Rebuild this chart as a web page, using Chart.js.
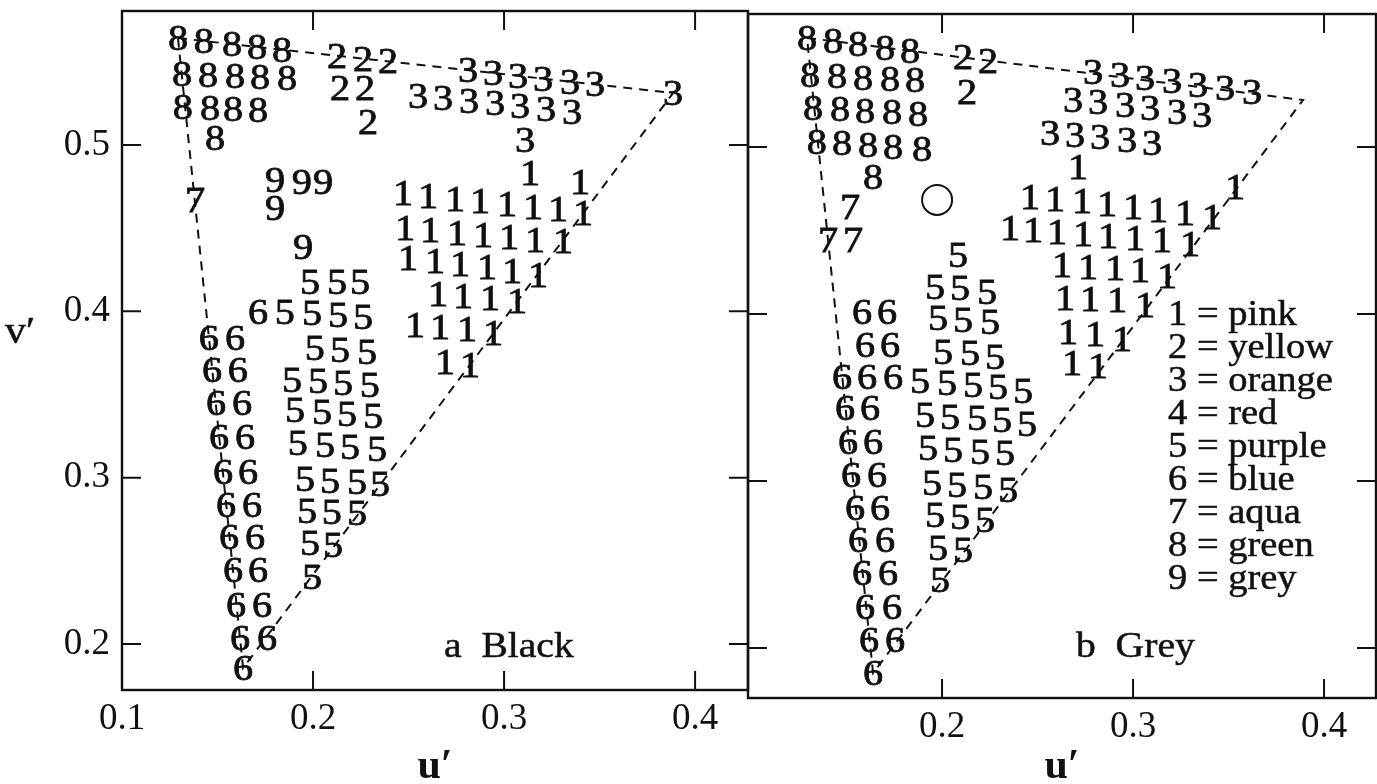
<!DOCTYPE html>
<html><head><meta charset="utf-8">
<script src="https://cdn.jsdelivr.net/npm/chart.js@4.4.0/dist/chart.umd.min.js"></script>
<style>
html,body{margin:0;padding:0;background:#fff;width:1377px;height:784px;overflow:hidden;}
#cA{position:absolute;left:0;top:0;width:760px;height:784px;}
#cB{position:absolute;left:700px;top:0;width:677px;height:784px;}
</style></head><body>
<canvas id="cA" width="760" height="784"></canvas>
<canvas id="cB" width="677" height="784"></canvas>
<script>
// ---------- tick labels ----------
const xTickValuesA = [0.1, 0.2, 0.3, 0.4];
const xTickLabelsA = ['0.1', '0.2', '0.3', '0.4'];
const xTickValuesB = [0.2, 0.3, 0.4];
const xTickLabelsB = ['0.2', '0.3', '0.4'];
const yTickValues = [0.2, 0.3, 0.4, 0.5];
const yTickLabels = ['0.2', '0.3', '0.4', '0.5'];
const legendLines = ['1 = pink', '2 = yellow', '3 = orange', '4 = red', '5 = purple', '6 = blue', '7 = aqua', '8 = green', '9 = grey'];

// ---------- panel a: Black ----------
const gamutUA = [0.1293, 0.3885, 0.1634, 0.1293];
const gamutVA = [0.5643, 0.5313, 0.1855, 0.5643];
const blackPink = [[0.3136,0.4832],[0.3398,0.4778],
 [0.2471,0.4711],[0.2602,0.4693],[0.2743,0.4675],[0.2874,0.4663],[0.3016,0.4645],[0.3152,0.4627],[0.3283,0.4615],[0.3414,0.4591],
 [0.2482,0.4501],[0.2613,0.4489],[0.2754,0.4471],[0.2890,0.4459],[0.3026,0.4447],[0.3162,0.4429],[0.3309,0.4423],
 [0.2497,0.4321],[0.2639,0.4302],[0.2770,0.4284],[0.2911,0.4266],[0.3042,0.4242],[0.3178,0.4218],
 [0.2654,0.4104],[0.2785,0.4092],[0.2927,0.4080],[0.3068,0.4062],
 [0.2534,0.3918],[0.2665,0.3906],[0.2806,0.3894],[0.2942,0.3870],
 [0.2691,0.3695],[0.2822,0.3677]];
const blackYellow = [[0.2126,0.5535],[0.2262,0.5520],[0.2393,0.5503],[0.2141,0.5343],[0.2272,0.5343],[0.2288,0.5138]];
const blackOrange = [[0.2812,0.5450],[0.2943,0.5433],[0.3073,0.5416],[0.3204,0.5400],[0.3346,0.5382],[0.3476,0.5365],[0.3885,0.5313],
 [0.2550,0.5295],[0.2681,0.5283],[0.2817,0.5265],[0.2953,0.5253],[0.3084,0.5235],[0.3220,0.5217],[0.3356,0.5198],
 [0.3110,0.5030]];
const blackPurple = [[0.1984,0.4176],[0.2126,0.4176],[0.2246,0.4176],
 [0.1853,0.3996],[0.1995,0.3990],[0.2131,0.3978],[0.2262,0.3966],
 [0.2010,0.3779],[0.2141,0.3767],[0.2283,0.3755],
 [0.1890,0.3587],[0.2026,0.3581],[0.2157,0.3569],[0.2298,0.3557],
 [0.1906,0.3407],[0.2047,0.3395],[0.2178,0.3383],[0.2314,0.3371],
 [0.1921,0.3208],[0.2063,0.3196],[0.2194,0.3184],[0.2335,0.3172],
 [0.1958,0.2992],[0.2089,0.2980],[0.2230,0.2974],[0.2351,0.2962],
 [0.1969,0.2799],[0.2099,0.2793],[0.2230,0.2787],
 [0.1984,0.2607],[0.2105,0.2595],
 [0.1995,0.2402]];
const blackBlue = [[0.1712,0.3996],
 [0.1455,0.3839],[0.1592,0.3839],[0.1471,0.3647],[0.1607,0.3647],[0.1492,0.3449],[0.1628,0.3449],
 [0.1508,0.3244],[0.1644,0.3244],[0.1529,0.3034],[0.1660,0.3034],[0.1545,0.2835],[0.1681,0.2835],
 [0.1560,0.2643],[0.1696,0.2643],[0.1581,0.2444],[0.1712,0.2444],[0.1597,0.2234],[0.1733,0.2234],
 [0.1618,0.2035],[0.1759,0.2035],[0.1634,0.1855]];
const blackAqua = [[0.1382,0.4669]];
const blackGreen = [[0.1293,0.5643],[0.1429,0.5625],[0.1576,0.5607],[0.1707,0.5589],[0.1838,0.5571],
 [0.1314,0.5427],[0.1450,0.5421],[0.1592,0.5415],[0.1723,0.5409],[0.1864,0.5403],
 [0.1319,0.5228],[0.1461,0.5222],[0.1581,0.5216],[0.1712,0.5210],
 [0.1487,0.5042]];
const blackGrey = [[0.1801,0.4790],[0.1942,0.4778],[0.2052,0.4778],[0.1801,0.4621],[0.1948,0.4387]];

// ---------- panel b: Grey ----------
const gamutUB = [0.1293, 0.3890, 0.1639, 0.1293];
const gamutVB = [0.5653, 0.5281, 0.1850, 0.5653];
const whitePoint = [[0.1974, 0.4683]];
const greyPink = [[0.2712,0.4880],
 [0.2461,0.4701],[0.2592,0.4689],[0.2733,0.4677],[0.2864,0.4659],[0.3000,0.4641],[0.3131,0.4623],[0.3272,0.4605],[0.3414,0.4581],[0.3534,0.4760],
 [0.2356,0.4515],[0.2476,0.4503],[0.2602,0.4491],[0.2738,0.4479],[0.2869,0.4467],[0.3011,0.4455],[0.3152,0.4443],[0.3299,0.4419],
 [0.2628,0.4293],[0.2764,0.4281],[0.2906,0.4275],[0.3037,0.4263],[0.3178,0.4228],
 [0.2644,0.4096],[0.2775,0.4090],[0.2916,0.4084],[0.3063,0.4054],
 [0.2660,0.3892],[0.2801,0.3880],[0.2942,0.3850],
 [0.2681,0.3707],[0.2817,0.3689]];
const greyYellow = [[0.2110,0.5536],[0.2241,0.5516],[0.2131,0.5329]];
const greyOrange = [[0.2791,0.5450],[0.2932,0.5431],[0.3063,0.5411],[0.3204,0.5392],[0.3340,0.5372],[0.3482,0.5352],[0.3623,0.5332],
 [0.2686,0.5281],[0.2817,0.5269],[0.2958,0.5251],[0.3089,0.5234],[0.3230,0.5210],[0.3361,0.5192],
 [0.2565,0.5084],[0.2696,0.5072],[0.2827,0.5060],[0.2969,0.5042],[0.3100,0.5024]];
const greyPurple = [[0.2084,0.4353],
 [0.1963,0.4162],[0.2094,0.4156],[0.2236,0.4132],
 [0.1979,0.3976],[0.2110,0.3964],[0.2251,0.3952],
 [0.2005,0.3772],[0.2147,0.3766],[0.2278,0.3743],
 [0.1885,0.3599],[0.2026,0.3587],[0.2162,0.3575],[0.2293,0.3563],[0.2424,0.3539],
 [0.1911,0.3395],[0.2042,0.3383],[0.2183,0.3377],[0.2314,0.3365],[0.2445,0.3341],
 [0.1927,0.3198],[0.2058,0.3186],[0.2199,0.3174],[0.2330,0.3168],
 [0.1948,0.2988],[0.2079,0.2976],[0.2215,0.2964],[0.2346,0.2946],
 [0.1963,0.2796],[0.2094,0.2784],[0.2225,0.2766],
 [0.1979,0.2599],[0.2110,0.2587],
 [0.1990,0.2407]];
const greyBlue = [[0.1581,0.4012],[0.1712,0.4012],[0.1597,0.3814],[0.1728,0.3814],
 [0.1476,0.3623],[0.1607,0.3623],[0.1743,0.3623],
 [0.1492,0.3437],[0.1623,0.3437],[0.1508,0.3234],[0.1639,0.3234],[0.1524,0.3036],[0.1660,0.3036],
 [0.1544,0.2838],[0.1675,0.2838],[0.1560,0.2647],[0.1702,0.2647],[0.1581,0.2449],[0.1717,0.2449],
 [0.1597,0.2246],[0.1738,0.2246],[0.1618,0.2048],[0.1754,0.2048],[0.1639,0.1850]];
const greyAqua = [[0.1518,0.4641],[0.1403,0.4443],[0.1534,0.4443]];
const greyGreen = [[0.1293,0.5653],[0.1429,0.5633],[0.1560,0.5614],[0.1702,0.5594],[0.1832,0.5575],
 [0.1309,0.5431],[0.1450,0.5425],[0.1586,0.5413],[0.1728,0.5407],[0.1859,0.5401],
 [0.1325,0.5234],[0.1466,0.5228],[0.1597,0.5216],[0.1738,0.5210],[0.1874,0.5198],
 [0.1345,0.5030],[0.1476,0.5024],[0.1613,0.5012],[0.1743,0.5000],[0.1895,0.4988],
 [0.1639,0.4820]];

// ---------- helpers ----------
const INK = '#111';
const SERIF = '"Liberation Serif", "Times New Roman", serif';
const pts = arr => arr.map(p => ({x: p[0], y: p[1]}));
const line = (us, vs) => us.map((u, i) => ({x: u, y: vs[i]}));
function digitSet(digit, arr) {
  return {type: 'scatter', digit: digit, data: pts(arr), pointRadius: 0, pointHoverRadius: 0, showLine: false};
}
function gamutSet(us, vs) {
  return {type: 'line', data: line(us, vs), borderColor: INK, borderWidth: 2, borderDash: [9, 7],
          pointRadius: 0, fill: false, tension: 0};
}
function stretchText(ctx, text, x, y, sx, stroke) {
  ctx.save(); ctx.translate(x, y); ctx.scale(sx, 1);
  ctx.fillText(text, 0, 0);
  if (stroke) { ctx.lineWidth = stroke; ctx.strokeStyle = INK; ctx.strokeText(text, 0, 0); }
  ctx.restore();
}

const digitPlugin = {
  id: 'digits',
  afterDatasetsDraw(chart) {
    const ctx = chart.ctx;
    ctx.save();
    ctx.font = '36px ' + SERIF;
    ctx.fillStyle = INK;
    ctx.textAlign = 'center';
    ctx.textBaseline = 'alphabetic';
    chart.data.datasets.forEach((ds, i) => {
      if (!ds.digit) return;
      chart.getDatasetMeta(i).data.forEach(el => stretchText(ctx, ds.digit, el.x, el.y + 12, 1.12, 0.8));
    });
    ctx.restore();
  }
};

const framePlugin = {
  id: 'frame',
  afterDraw(chart, args, opts) {
    const {ctx, chartArea: a, scales} = chart;
    ctx.save();
    ctx.strokeStyle = INK;
    ctx.lineWidth = 2.4;
    ctx.strokeRect(a.left, a.top, a.right - a.left, a.bottom - a.top);
    const L = 19;
    ctx.lineWidth = 2;
    ctx.beginPath();
    opts.xMarks.forEach(v => {
      const px = scales.x.getPixelForValue(v);
      ctx.moveTo(px, a.bottom); ctx.lineTo(px, a.bottom - L);
      ctx.moveTo(px, a.top); ctx.lineTo(px, a.top + L);
    });
    yTickValues.forEach(v => {
      const py = scales.y.getPixelForValue(v);
      ctx.moveTo(a.left, py); ctx.lineTo(a.left + L, py);
      ctx.moveTo(a.right, py); ctx.lineTo(a.right - L, py);
    });
    ctx.stroke();
    ctx.fillStyle = INK;
    ctx.textAlign = 'left';
    ctx.textBaseline = 'alphabetic';
    (opts.texts || []).forEach(t => {
      ctx.font = t.font;
      stretchText(ctx, t.text, a.left + t.dx, a.top + t.dy, t.sx || 1.1, 0.5);
    });
    ctx.restore();
  }
};

function zeroPad(s) { s.paddingLeft = 0; s.paddingRight = 0; s.paddingTop = 0; s.paddingBottom = 0; }
function axisX(min, max, vals, labels, height) {
  return {
    type: 'linear', min: min, max: max,
    afterBuildTicks: s => { s.ticks = vals.map(v => ({value: v})); },
    afterFit: s => { s.height = height; zeroPad(s); },
    ticks: {callback: (v, i) => labels[i], font: {family: SERIF, size: 37}, color: INK, padding: 7, maxRotation: 0, autoSkip: false},
    grid: {display: false, drawTicks: false},
    border: {display: false},
    title: {display: true, text: 'u\u2032', color: INK, font: {family: SERIF, size: 42, weight: 'bold'}, padding: {top: 0, bottom: -8}}
  };
}
function axisY(min, max, showLabels, width) {
  return {
    type: 'linear', min: min, max: max,
    afterBuildTicks: s => { s.ticks = yTickValues.map(v => ({value: v})); },
    afterFit: s => { s.width = width; zeroPad(s); },
    ticks: {display: showLabels, callback: (v, i) => yTickLabels[i], font: {family: SERIF, size: 37}, color: INK, padding: 12},
    grid: {display: false, drawTicks: false},
    border: {display: false}
  };
}
const commonPlugins = {legend: {display: false}, tooltip: {enabled: false}};

new Chart(document.getElementById('cA'), {
  type: 'scatter',
  data: {datasets: [
    gamutSet(gamutUA, gamutVA),
    digitSet('1', blackPink), digitSet('2', blackYellow), digitSet('3', blackOrange),
    digitSet('5', blackPurple), digitSet('6', blackBlue), digitSet('7', blackAqua),
    digitSet('8', blackGreen), digitSet('9', blackGrey)
  ]},
  options: {
    responsive: false, animation: false, events: [],
    layout: {autoPadding: false, padding: {left: 0, top: 11, right: 12, bottom: 0}},
    scales: {x: axisX(0.1, 0.4277, xTickValuesA, xTickLabelsA, 94), y: axisY(0.1723, 0.5806, true, 122)},
    plugins: Object.assign({}, commonPlugins, {
      frame: {xMarks: [0.2, 0.3, 0.4], texts: [
        {text: 'a  Black', dx: 322, dy: 657 - 11, font: '36px ' + SERIF},
        {text: 'v\u2032', dx: -117, dy: 343 - 11, font: '38px ' + SERIF, sx: 1.1}
      ]}
    })
  },
  plugins: [digitPlugin, framePlugin]
});

new Chart(document.getElementById('cB'), {
  type: 'scatter',
  data: {datasets: [
    gamutSet(gamutUB, gamutVB),
    {type: 'scatter', data: pts(whitePoint), pointStyle: 'circle', pointRadius: 15, borderColor: INK, borderWidth: 2, backgroundColor: 'rgba(0,0,0,0)'},
    digitSet('1', greyPink), digitSet('2', greyYellow), digitSet('3', greyOrange),
    digitSet('5', greyPurple), digitSet('6', greyBlue), digitSet('7', greyAqua),
    digitSet('8', greyGreen)
  ]},
  options: {
    responsive: false, animation: false, events: [],
    layout: {autoPadding: false, padding: {left: 0, top: 14, right: 1, bottom: 0}},
    scales: {x: axisX(0.0984, 0.4272, xTickValuesB, xTickLabelsB, 86), y: axisY(0.1701, 0.5796, false, 48)},
    plugins: Object.assign({}, commonPlugins, {
      frame: {xMarks: [0.2, 0.3, 0.4], texts: [
        {text: 'b  Grey', dx: 328, dy: 657 - 14, font: '36px ' + SERIF}
      ].concat(legendLines.map((t, i) => ({text: t, dx: 420, dy: 325 - 14 + 33 * i, font: '35px ' + SERIF})))}
    })
  },
  plugins: [digitPlugin, framePlugin]
});
</script>
</body></html>
